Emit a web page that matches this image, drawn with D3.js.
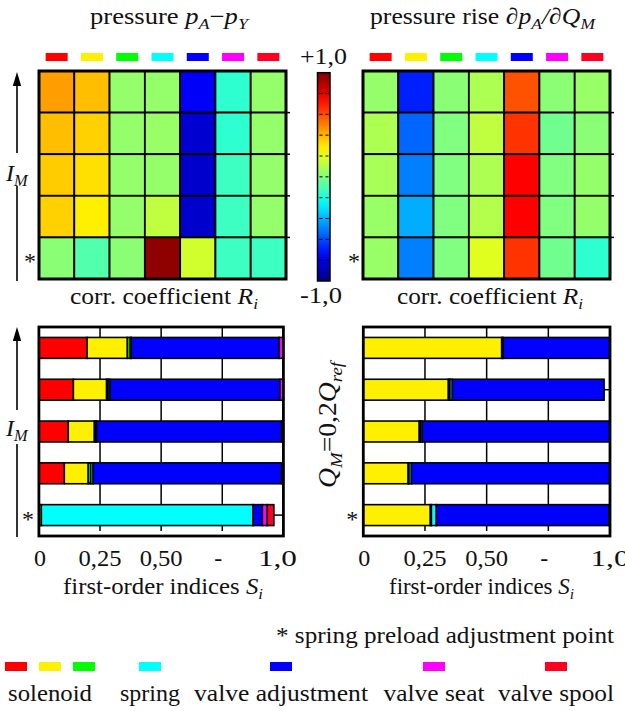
<!DOCTYPE html>
<html><head><meta charset="utf-8">
<script src="https://cdn.jsdelivr.net/npm/d3@7"></script>
<style>
body{margin:0;background:#fff}
svg{display:block}
svg text{font-family:"Liberation Serif","Tinos","Noto Serif","DejaVu Serif","FreeSerif","Nimbus Roman","Times New Roman",Times,serif}
</style>
</head><body><svg id="c" width="625" height="711"></svg>
<script>
// ---------- data ----------
const params = ["solenoid 1","solenoid 2","solenoid 3","spring","valve adjustment","valve seat","valve spool"];
const paramColors = ["#ff0000","#fff000","#00ff00","#00ffff","#0000ff","#ff00ff","#ff0022"];
const rowLabels = ["","","","","*"];
// correlation coefficients R_i (rows top -> bottom, last row = spring preload adjustment point)
const corrPressure = [
  [0.44, 0.375, 0.04, 0.04, -0.76, -0.16, 0.04],
  [0.375, 0.34, 0.04, 0.05, -0.84, -0.16, 0.04],
  [0.35, 0.31, 0.04, 0.04, -0.85, -0.13, 0.04],
  [0.34, 0.28, 0.04, 0.125, -0.85, -0.13, 0.04],
  [0.02, -0.09, 0.02, 0.97, 0.16, -0.13, -0.13]
];
const corrRise = [
  [0.04, -0.69, 0.02, 0.09, 0.59, 0.02, 0.05],
  [0.09, -0.55, 0.00, 0.125, 0.65, -0.03, 0.02],
  [0.08, -0.50, 0.00, 0.09, 0.75, 0.00, 0.04],
  [0.05, -0.41, 0.00, 0.10, 0.75, 0.00, 0.04],
  [0.05, -0.50, 0.00, 0.19, 0.65, -0.03, -0.16]
];
// first-order indices S_i
const siPressure = [
  [0.197, 0.165, 0.012, 0.004, 0.605, 0.017, 0.0],
  [0.141, 0.136, 0.006, 0.008, 0.695, 0.014, 0.0],
  [0.120, 0.107, 0.005, 0.004, 0.757, 0.007, 0.0],
  [0.104, 0.098, 0.010, 0.010, 0.771, 0.007, 0.0],
  [0.0, 0.010, 0.0, 0.866, 0.038, 0.020, 0.027]
];
const siRise = [
  [0.0, 0.561, 0.0, 0.006, 0.433, 0.0, 0.0],
  [0.0, 0.345, 0.006, 0.010, 0.615, 0.0, 0.0],
  [0.0, 0.227, 0.005, 0.007, 0.761, 0.0, 0.0],
  [0.0, 0.182, 0.003, 0.010, 0.805, 0.0, 0.0],
  [0.0, 0.272, 0.004, 0.020, 0.700, 0.0, 0.004]
];
const upperPressure = [1, 1, 1, 1, 1];
const upperRise = [1, 1, 1, 1, 1];
const xTickValues = [0, 0.25, 0.5, 0.75, 1];
const xTickLabels = ["0", "0,25", "0,50", "-", "1,0"];
const colorbarLabels = ["+1,0", "-1,0"];
const legendGroups = [
  {name: "solenoid", idx: [0, 1, 2]},
  {name: "spring", idx: [3]},
  {name: "valve adjustment", idx: [4]},
  {name: "valve seat", idx: [5]},
  {name: "valve spool", idx: [6]}
];

// ---------- helpers ----------
const svg = d3.select("#c");
svg.append("rect").attr("width", 625).attr("height", 711).attr("fill", "#fff");
const FS = 23;
const INK = "#111";
const jetT = d3.scaleLinear().domain([-1, 1]).range([0, 1]).clamp(true);
function jet(v) {
  const t = jetT(v), c = x => Math.max(0, Math.min(1, x));
  return d3.rgb(255 * c(1.5 - Math.abs(4 * t - 3)), 255 * c(1.5 - Math.abs(4 * t - 2)), 255 * c(1.5 - Math.abs(4 * t - 1))).formatHex();
}
function txt(g, x, y, s, size, anchor) {
  return g.append("text").attr("x", x).attr("y", y).attr("font-size", size).attr("fill", INK)
    .attr("text-anchor", anchor || "middle").text(s);
}
// rich text: parts = [[text, italic, sub]]
function rich(g, x, y, parts, size, anchor, len) {
  const t = g.append("text").attr("x", x).attr("y", y).attr("font-size", size).attr("fill", INK).attr("text-anchor", anchor || "middle");
  if (len) t.attr("textLength", len).attr("lengthAdjust", "spacingAndGlyphs");
  let prevSub = false;
  parts.forEach(([s, it, sub]) => {
    const sp = t.append("tspan").text(s);
    if (it) sp.attr("font-style", "italic");
    if (sub && !prevSub) sp.attr("dy", size * 0.22);
    if (!sub && prevSub) sp.attr("dy", -size * 0.22);
    if (sub) sp.attr("font-size", size * 0.68);
    prevSub = sub;
  });
  return t;
}

// ---------- heatmaps ----------
function heatmap(data, x0, x1) {
  const g = svg.append("g");
  const xs = d3.scaleBand().domain(d3.range(params.length)).range([x0, x1]);
  const ys = d3.scaleBand().domain(d3.range(rowLabels.length)).range([71, 279]);
  data.forEach((row, r) => row.forEach((v, c) => {
    g.append("rect").attr("x", xs(c)).attr("y", ys(r)).attr("width", xs.bandwidth()).attr("height", ys.bandwidth())
      .attr("fill", jet(v)).attr("stroke", "#000").attr("stroke-width", 1.8);
  }));
  g.append("rect").attr("x", x0).attr("y", 71).attr("width", x1 - x0).attr("height", 208)
    .attr("fill", "none").attr("stroke", "#000").attr("stroke-width", 3);
  ys.domain().slice(1).forEach(r => g.append("line").attr("x1", x1).attr("x2", x1 + 4)
    .attr("y1", ys(r)).attr("y2", ys(r)).attr("stroke", "#000").attr("stroke-width", 1.5));
  params.forEach((p, i) => g.append("rect").attr("x", xs(i) + xs.bandwidth() / 2 - 11).attr("y", 53)
    .attr("width", 22).attr("height", 8).attr("fill", paramColors[i]));
  rowLabels.forEach((l, r) => { if (l) txt(g, x0 - 9, ys(r) + ys.bandwidth() / 2 + 11, l, 24); });
  return {xs, ys};
}
heatmap(corrPressure, 39, 286);
heatmap(corrRise, 363, 610);

// ---------- colorbar ----------
const cbX = 317.5, cbW = 12.5, cbY0 = 72.7, cbY1 = 281;
const cbScale = d3.scaleLinear().domain([1, -1]).range([cbY0, cbY1]);
const grad = svg.append("defs").append("linearGradient").attr("id", "jet").attr("x1", 0).attr("y1", 0).attr("x2", 0).attr("y2", 1);
d3.range(0, 1.0001, 0.05).forEach(o => grad.append("stop").attr("offset", o).attr("stop-color", jet(1 - 2 * o)));
svg.append("rect").attr("x", cbX).attr("y", cbY0).attr("width", cbW).attr("height", cbY1 - cbY0)
  .attr("fill", "url(#jet)").attr("stroke", "#000").attr("stroke-width", 1.5);
d3.range(-0.8, 0.81, 0.2).forEach(v => svg.append("line").attr("x1", cbX + 2).attr("x2", cbX + cbW)
  .attr("y1", cbScale(v)).attr("y2", cbScale(v)).attr("stroke", "#000").attr("stroke-width", 1).attr("stroke-dasharray", "3,3"));
txt(svg, 323.5, 64, colorbarLabels[0], 24).attr("textLength", 47).attr("lengthAdjust", "spacingAndGlyphs");
txt(svg, 321, 303, colorbarLabels[1], 24).attr("textLength", 42).attr("lengthAdjust", "spacingAndGlyphs");

// ---------- bar charts ----------
function bars(data, upper, x0, x1, lastDx) {
  const g = svg.append("g");
  const xs = d3.scaleLinear().domain([0, 1]).range([x0, x1]);
  const ys = d3.scaleBand().domain(d3.range(data.length)).range([327, 536]).paddingInner(0.5).paddingOuter(0.25);
  [0.25, 0.5, 0.75].forEach(v => g.append("line").attr("x1", xs(v)).attr("x2", xs(v)).attr("y1", 327).attr("y2", 531)
    .attr("stroke", "#000").attr("stroke-width", 1.5));
  const stack = d3.stack().keys(d3.range(params.length))(data);
  stack.forEach((layer, k) => layer.forEach((d, r) => {
    if (d[1] - d[0] <= 0) return;
    g.append("rect").attr("x", xs(d[0])).attr("y", ys(r)).attr("width", xs(d[1]) - xs(d[0])).attr("height", ys.bandwidth())
      .attr("fill", paramColors[k]).attr("stroke", "#000").attr("stroke-width", 1.6);
  }));
  data.forEach((row, r) => {
    const s = d3.sum(row);
    if (upper[r] - s > 0.004) g.append("line").attr("x1", xs(s)).attr("x2", xs(upper[r]))
      .attr("y1", ys(r) + ys.bandwidth() / 2).attr("y2", ys(r) + ys.bandwidth() / 2).attr("stroke", "#000").attr("stroke-width", 1.5);
  });
  g.append("rect").attr("x", x0).attr("y", 327).attr("width", x1 - x0).attr("height", 209)
    .attr("fill", "none").attr("stroke", "#000").attr("stroke-width", 2.8);
  xTickValues.forEach((v, i) => {
    let dx = 0;
    if (xTickLabels[i] === "-") dx = -4;
    if (i === xTickValues.length - 1) dx = lastDx;
    if (i === 0) dx = 1;
    const t = txt(g, xs(v) + dx, 566, xTickLabels[i], 24);
    if (xTickLabels[i].length === 4) t.attr("textLength", 43).attr("lengthAdjust", "spacingAndGlyphs");
    if (xTickLabels[i].length === 3) t.attr("textLength", 39).attr("lengthAdjust", "spacingAndGlyphs");
  });
  rowLabels.forEach((l, r) => { if (l) txt(g, x0 - 11, ys(r) + ys.bandwidth() / 2 + 12, l, 24); });
  return {xs, ys};
}
bars(siPressure, upperPressure, 38.9, 283.4, -6);
bars(siRise, upperRise, 363.3, 610, 0);

// ---------- arrows with I_M ----------
function arrow(tip, head, l1, l2, bottom, labelY) {
  svg.append("path").attr("d", `M17,${tip}L12.8,${head}L21.2,${head}Z`).attr("fill", "#000");
  svg.append("line").attr("x1", 17).attr("x2", 17).attr("y1", head - 1).attr("y2", l1).attr("stroke", "#000").attr("stroke-width", 1.6);
  svg.append("line").attr("x1", 17).attr("x2", 17).attr("y1", l2).attr("y2", bottom).attr("stroke", "#000").attr("stroke-width", 1.6);
  rich(svg, 6, labelY, [["I", true, false], ["M", true, true]], 24, "start");
}
arrow(72, 86, 153, 186, 281, 181);
arrow(327, 341, 410, 444, 537, 436);

// ---------- texts ----------
rich(svg, 169, 24, [["pressure ", false, false], ["p", true, false], ["A", true, true], ["\u2212", false, false], ["p", true, false], ["Y", true, true]], 23, "middle", 158);
rich(svg, 482.5, 24, [["pressure rise  ", false, false], ["\u2202p", true, false], ["A", true, true], ["/\u2202Q", true, false], ["M", true, true]], 23, "middle", 225);
rich(svg, 164, 304, [["corr. coefficient ", false, false], ["R", true, false], ["i", true, true]], FS, "middle", 188);
rich(svg, 490, 304, [["corr. coefficient ", false, false], ["R", true, false], ["i", true, true]], FS, "middle", 186);
rich(svg, 163, 594, [["first-order indices ", false, false], ["S", true, false], ["i", true, true]], FS, "middle", 200);
rich(svg, 481.5, 594, [["first-order indices ", false, false], ["S", true, false], ["i", true, true]], FS, "middle", 185);
const rot = rich(svg, 0, 0, [["Q", true, false], ["M", true, true], ["=0,2", false, false], ["Q", true, false], ["ref", true, true]], 25, "middle", 126);
rot.attr("transform", "translate(336,425) rotate(-90)");

txt(svg, 276, 643, "* spring preload adjustment point", FS, "start")
  .attr("textLength", 338).attr("lengthAdjust", "spacingAndGlyphs");

// ---------- legend ----------
const legendCenters = [50, 150, 281, 434, 556];
const legendWidths = [84, 60, 174, 101, 116];
legendGroups.forEach((grp, gi) => {
  const n = grp.idx.length;
  const pos = d3.scalePoint().domain(grp.idx).range([-34, 34]);
  grp.idx.forEach(k => {
    const cx = legendCenters[gi] + (n > 1 ? pos(k) : 0);
    svg.append("rect").attr("x", cx - 11).attr("y", 662).attr("width", 22).attr("height", 9).attr("fill", paramColors[k]);
  });
  txt(svg, legendCenters[gi], 701, grp.name, FS).attr("textLength", legendWidths[gi]).attr("lengthAdjust", "spacingAndGlyphs");
});
</script>
</body></html>
